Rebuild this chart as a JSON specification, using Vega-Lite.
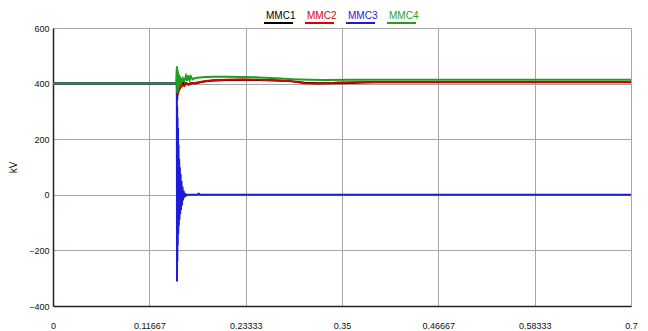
{
  "$schema": "https://vega.github.io/schema/vega-lite/v6.json",
  "width": 578,
  "height": 278,
  "autosize": {"type": "none"},
  "padding": {"left": 53, "top": 28, "right": 17, "bottom": 25},
  "background": "#ffffff",
  "config": {
    "view": {"stroke": null},
    "font": "Liberation Sans"
  },
  "data": {
    "values": [
      {"t": 0, "v": 400, "s": "MMC1"},
      {"t": 0.1498, "v": 400, "s": "MMC1"},
      {"t": 0.1501, "v": 452, "s": "MMC1"},
      {"t": 0.1504, "v": 345, "s": "MMC1"},
      {"t": 0.1508, "v": 440, "s": "MMC1"},
      {"t": 0.1512, "v": 362, "s": "MMC1"},
      {"t": 0.1516, "v": 428, "s": "MMC1"},
      {"t": 0.1521, "v": 372, "s": "MMC1"},
      {"t": 0.1527, "v": 418, "s": "MMC1"},
      {"t": 0.1533, "v": 380, "s": "MMC1"},
      {"t": 0.154, "v": 410, "s": "MMC1"},
      {"t": 0.1548, "v": 388, "s": "MMC1"},
      {"t": 0.1556, "v": 406, "s": "MMC1"},
      {"t": 0.1565, "v": 392, "s": "MMC1"},
      {"t": 0.1575, "v": 404, "s": "MMC1"},
      {"t": 0.159, "v": 394, "s": "MMC1"},
      {"t": 0.161, "v": 402, "s": "MMC1"},
      {"t": 0.164, "v": 397, "s": "MMC1"},
      {"t": 0.168, "v": 402, "s": "MMC1"},
      {"t": 0.172, "v": 400, "s": "MMC1"},
      {"t": 0.178, "v": 405, "s": "MMC1"},
      {"t": 0.185, "v": 408, "s": "MMC1"},
      {"t": 0.195, "v": 411, "s": "MMC1"},
      {"t": 0.21, "v": 413, "s": "MMC1"},
      {"t": 0.23, "v": 414, "s": "MMC1"},
      {"t": 0.25, "v": 413, "s": "MMC1"},
      {"t": 0.27, "v": 411, "s": "MMC1"},
      {"t": 0.29, "v": 408, "s": "MMC1"},
      {"t": 0.305, "v": 403, "s": "MMC1"},
      {"t": 0.32, "v": 401, "s": "MMC1"},
      {"t": 0.34, "v": 401, "s": "MMC1"},
      {"t": 0.36, "v": 402, "s": "MMC1"},
      {"t": 0.375, "v": 404, "s": "MMC1"},
      {"t": 0.39, "v": 405, "s": "MMC1"},
      {"t": 0.45, "v": 405, "s": "MMC1"},
      {"t": 0.55, "v": 405, "s": "MMC1"},
      {"t": 0.7, "v": 405, "s": "MMC1"},

      {"t": 0, "v": 400, "s": "MMC2"},
      {"t": 0.1498, "v": 400, "s": "MMC2"},
      {"t": 0.1501, "v": 448, "s": "MMC2"},
      {"t": 0.1504, "v": 340, "s": "MMC2"},
      {"t": 0.1508, "v": 436, "s": "MMC2"},
      {"t": 0.1512, "v": 358, "s": "MMC2"},
      {"t": 0.1516, "v": 425, "s": "MMC2"},
      {"t": 0.1521, "v": 368, "s": "MMC2"},
      {"t": 0.1527, "v": 415, "s": "MMC2"},
      {"t": 0.1533, "v": 377, "s": "MMC2"},
      {"t": 0.154, "v": 408, "s": "MMC2"},
      {"t": 0.1548, "v": 385, "s": "MMC2"},
      {"t": 0.1556, "v": 403, "s": "MMC2"},
      {"t": 0.1565, "v": 390, "s": "MMC2"},
      {"t": 0.157, "v": 395, "s": "MMC2"},
      {"t": 0.159, "v": 392, "s": "MMC2"},
      {"t": 0.161, "v": 400, "s": "MMC2"},
      {"t": 0.164, "v": 396, "s": "MMC2"},
      {"t": 0.168, "v": 401, "s": "MMC2"},
      {"t": 0.172, "v": 402, "s": "MMC2"},
      {"t": 0.178, "v": 406, "s": "MMC2"},
      {"t": 0.185, "v": 409, "s": "MMC2"},
      {"t": 0.195, "v": 412, "s": "MMC2"},
      {"t": 0.21, "v": 414, "s": "MMC2"},
      {"t": 0.23, "v": 415, "s": "MMC2"},
      {"t": 0.25, "v": 414, "s": "MMC2"},
      {"t": 0.27, "v": 412, "s": "MMC2"},
      {"t": 0.29, "v": 408, "s": "MMC2"},
      {"t": 0.305, "v": 401, "s": "MMC2"},
      {"t": 0.32, "v": 400, "s": "MMC2"},
      {"t": 0.335, "v": 401, "s": "MMC2"},
      {"t": 0.345, "v": 404, "s": "MMC2"},
      {"t": 0.36, "v": 405, "s": "MMC2"},
      {"t": 0.39, "v": 406, "s": "MMC2"},
      {"t": 0.45, "v": 406, "s": "MMC2"},
      {"t": 0.55, "v": 406, "s": "MMC2"},
      {"t": 0.7, "v": 406, "s": "MMC2"},

      {"t": 0, "v": 400, "s": "MMC3"},
      {"t": 0.1498, "v": 400, "s": "MMC3"},
      {"t": 0.15, "v": 348, "s": "MMC3"},
      {"t": 0.1502, "v": -312, "s": "MMC3"},
      {"t": 0.1504, "v": 320, "s": "MMC3"},
      {"t": 0.1506, "v": -240, "s": "MMC3"},
      {"t": 0.1508, "v": 280, "s": "MMC3"},
      {"t": 0.1511, "v": -180, "s": "MMC3"},
      {"t": 0.1514, "v": 240, "s": "MMC3"},
      {"t": 0.1517, "v": -140, "s": "MMC3"},
      {"t": 0.152, "v": 180, "s": "MMC3"},
      {"t": 0.1524, "v": -110, "s": "MMC3"},
      {"t": 0.1528, "v": 130, "s": "MMC3"},
      {"t": 0.1532, "v": -90, "s": "MMC3"},
      {"t": 0.1536, "v": 100, "s": "MMC3"},
      {"t": 0.154, "v": -70, "s": "MMC3"},
      {"t": 0.1545, "v": 75, "s": "MMC3"},
      {"t": 0.155, "v": -55, "s": "MMC3"},
      {"t": 0.1556, "v": 50, "s": "MMC3"},
      {"t": 0.1562, "v": -38, "s": "MMC3"},
      {"t": 0.1568, "v": 30, "s": "MMC3"},
      {"t": 0.1575, "v": -20, "s": "MMC3"},
      {"t": 0.1582, "v": 15, "s": "MMC3"},
      {"t": 0.159, "v": -10, "s": "MMC3"},
      {"t": 0.16, "v": 6, "s": "MMC3"},
      {"t": 0.161, "v": -3, "s": "MMC3"},
      {"t": 0.163, "v": 0, "s": "MMC3"},
      {"t": 0.175, "v": 0, "s": "MMC3"},
      {"t": 0.1765, "v": 4, "s": "MMC3"},
      {"t": 0.178, "v": 0, "s": "MMC3"},
      {"t": 0.7, "v": 0, "s": "MMC3"},

      {"t": 0, "v": 400, "s": "MMC4"},
      {"t": 0.1498, "v": 400, "s": "MMC4"},
      {"t": 0.1501, "v": 462, "s": "MMC4"},
      {"t": 0.1504, "v": 365, "s": "MMC4"},
      {"t": 0.1508, "v": 450, "s": "MMC4"},
      {"t": 0.1512, "v": 375, "s": "MMC4"},
      {"t": 0.1516, "v": 440, "s": "MMC4"},
      {"t": 0.1521, "v": 385, "s": "MMC4"},
      {"t": 0.1527, "v": 432, "s": "MMC4"},
      {"t": 0.1533, "v": 392, "s": "MMC4"},
      {"t": 0.154, "v": 426, "s": "MMC4"},
      {"t": 0.1548, "v": 398, "s": "MMC4"},
      {"t": 0.1556, "v": 420, "s": "MMC4"},
      {"t": 0.1565, "v": 405, "s": "MMC4"},
      {"t": 0.1575, "v": 418, "s": "MMC4"},
      {"t": 0.159, "v": 408, "s": "MMC4"},
      {"t": 0.161, "v": 428, "s": "MMC4"},
      {"t": 0.1625, "v": 410, "s": "MMC4"},
      {"t": 0.164, "v": 430, "s": "MMC4"},
      {"t": 0.1655, "v": 412, "s": "MMC4"},
      {"t": 0.167, "v": 426, "s": "MMC4"},
      {"t": 0.169, "v": 415, "s": "MMC4"},
      {"t": 0.172, "v": 420, "s": "MMC4"},
      {"t": 0.178, "v": 422, "s": "MMC4"},
      {"t": 0.185, "v": 424, "s": "MMC4"},
      {"t": 0.195, "v": 425, "s": "MMC4"},
      {"t": 0.21, "v": 425, "s": "MMC4"},
      {"t": 0.23, "v": 424, "s": "MMC4"},
      {"t": 0.25, "v": 422, "s": "MMC4"},
      {"t": 0.27, "v": 419, "s": "MMC4"},
      {"t": 0.29, "v": 416, "s": "MMC4"},
      {"t": 0.31, "v": 414, "s": "MMC4"},
      {"t": 0.33, "v": 413, "s": "MMC4"},
      {"t": 0.36, "v": 414, "s": "MMC4"},
      {"t": 0.4, "v": 414, "s": "MMC4"},
      {"t": 0.5, "v": 414, "s": "MMC4"},
      {"t": 0.6, "v": 414, "s": "MMC4"},
      {"t": 0.7, "v": 414, "s": "MMC4"}
    ]
  },
  "mark": {"type": "line", "strokeWidth": 2, "clip": true},
  "encoding": {
    "x": {
      "field": "t",
      "type": "quantitative",
      "scale": {"domain": [0, 0.7], "nice": false, "zero": false},
      "axis": {
        "values": [0, 0.11667, 0.23333, 0.35, 0.46667, 0.58333, 0.7],
        "format": ".5~f",
        "title": null,
        "grid": true,
        "gridColor": "#a6a6a6",
        "gridWidth": 1,
        "gridOpacity": 1,
        "ticks": false,
        "domainColor": "#222222",
        "domainWidth": 1.5,
        "labelPadding": 15,
        "labelFontSize": 9,
        "labelColor": "#111111",
        "labelFlush": false,
        "labelOverlap": false
      }
    },
    "y": {
      "field": "v",
      "type": "quantitative",
      "scale": {"domain": [-400, 600], "nice": false, "zero": false},
      "axis": {
        "values": [-400, -200, 0, 200, 400, 600],
        "title": "kV",
        "titleFontWeight": "normal",
        "titleFontSize": 10,
        "titleColor": "#111111",
        "titlePadding": 10,
        "grid": true,
        "gridColor": "#a6a6a6",
        "gridWidth": 1,
        "gridOpacity": 1,
        "ticks": false,
        "domainColor": "#222222",
        "domainWidth": 1.5,
        "labelPadding": 4,
        "labelFontSize": 9,
        "labelColor": "#111111",
        "labelOverlap": false
      }
    },
    "color": {
      "field": "s",
      "type": "nominal",
      "scale": {
        "domain": ["MMC1", "MMC2", "MMC3", "MMC4"],
        "range": ["#000000", "#d80000", "#1c1cd8", "#1ea01e"]
      },
      "legend": {
        "orient": "none",
        "legendX": 203,
        "legendY": -17,
        "direction": "horizontal",
        "title": null,
        "symbolType": "M 3,7 L 32,7",
        "symbolSize": 4,
        "symbolStrokeWidth": 2,
        "labelOffset": 0,
        "columnPadding": 0,
        "gridAlign": "none",
        "labelFontSize": 10,
        "padding": 0,
        "encode": {
          "labels": {"update": {"fill": {"scale": "color", "field": "value"}}}
        }
      }
    }
  }
}
